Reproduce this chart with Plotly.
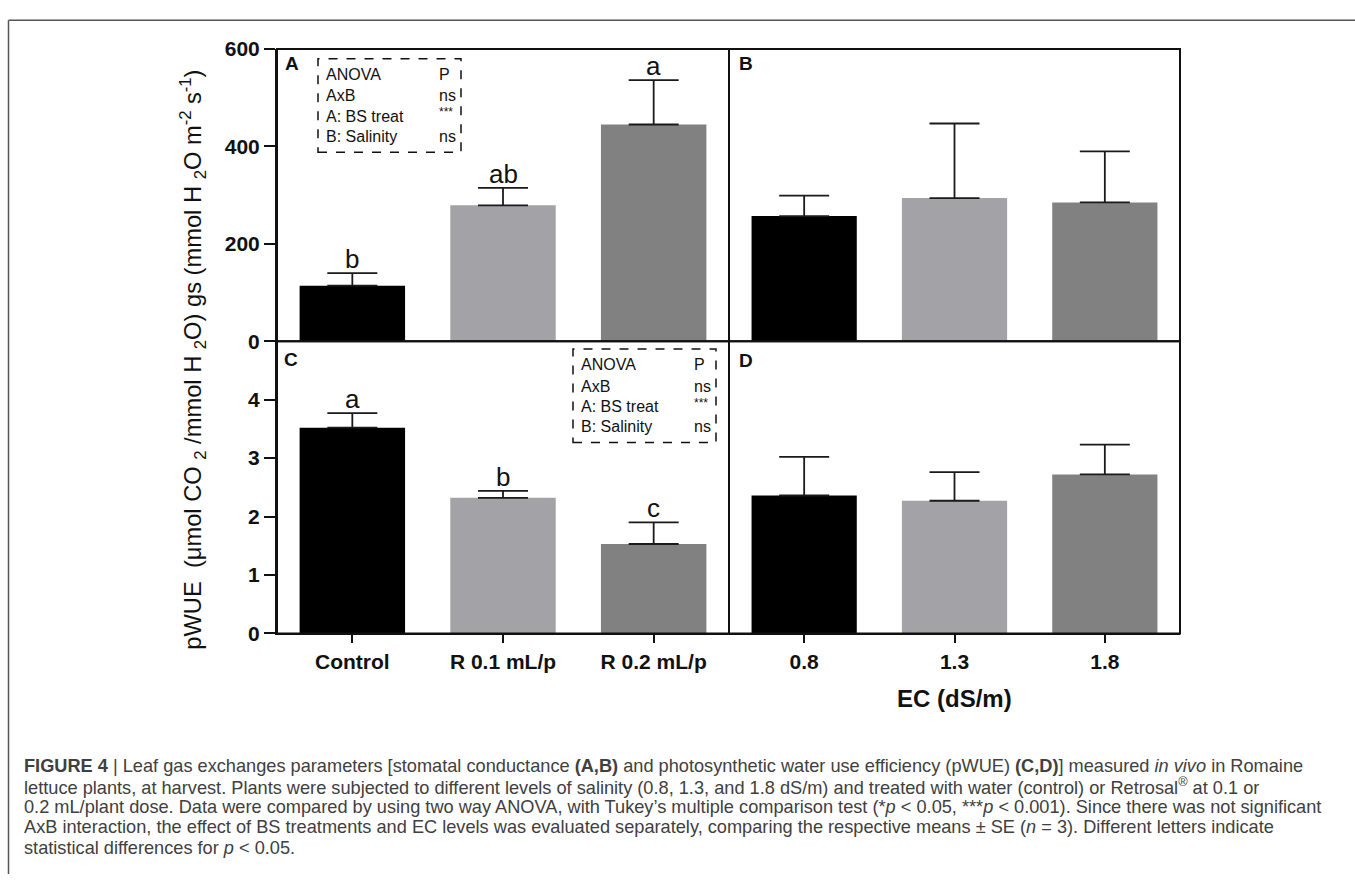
import plotly.graph_objects as go

W, H = 1355, 885

def px(x):
    return x / W

def py(y):
    return 1 - y / H

# ---------------- data ----------------
treat_cats = ["Control", "R 0.1 mL/p", "R 0.2 mL/p"]
ec_cats = ["0.8", "1.3", "1.8"]

gs_treat = [114, 279, 445]
gs_treat_se = [26, 36, 91]
gs_ec = [257, 294, 285]
gs_ec_se = [42, 153, 105]

wue_treat = [3.52, 2.32, 1.53]
wue_treat_se = [0.25, 0.12, 0.37]
wue_ec = [2.36, 2.27, 2.72]
wue_ec_se = [0.66, 0.49, 0.51]

letters_gs = ["b", "ab", "a"]
letters_wue = ["a", "b", "c"]

gs_ticks = [0, 200, 400, 600]
wue_ticks = [0, 1, 2, 3, 4]

bar_colors = ["#000000", "#a3a3a7", "#818181"]
FONT = "Liberation Sans, Arial, sans-serif"

# ---------------- figure ----------------
fig = go.Figure()

def add_bars(cats, vals, se, xa, ya):
    fig.add_trace(go.Bar(
        x=cats, y=vals, width=0.7,
        marker=dict(color=bar_colors, line=dict(width=0)),
        error_y=dict(type="data", array=se, arrayminus=[0] * len(se), symmetric=False,
                     width=25, thickness=1.8, color="#1a1a1a"),
        xaxis=xa, yaxis=ya, showlegend=False, hoverinfo="skip"))

add_bars(treat_cats, gs_treat, gs_treat_se, "x", "y")
add_bars(ec_cats, gs_ec, gs_ec_se, "x2", "y2")
add_bars(treat_cats, wue_treat, wue_treat_se, "x3", "y3")
add_bars(ec_cats, wue_ec, wue_ec_se, "x4", "y4")

xA = [px(277), px(729)]
xB = [px(729), px(1180)]
yTop = [py(338), py(38)]
yBot = [py(638), py(338)]

tickfont = dict(family=FONT, size=21, color="#111", weight="bold")

common_x = dict(type="category", range=[-0.5, 2.5], showgrid=False, zeroline=False, fixedrange=True)
hidden_x = dict(common_x, showticklabels=False, ticks="", showline=False)
shown_x = dict(common_x, showticklabels=True, ticks="outside", ticklen=8, tickwidth=2,
               tickcolor="#111", showline=True, linewidth=2, linecolor="#111", tickfont=tickfont)

fig.update_layout(
    width=W, height=H,
    margin=dict(l=0, r=0, t=0, b=0),
    paper_bgcolor="white", plot_bgcolor="white",
    bargap=0.3,
    xaxis=dict(hidden_x, domain=xA, anchor="y"),
    xaxis2=dict(hidden_x, domain=xB, anchor="y2"),
    xaxis3=dict(shown_x, domain=xA, anchor="y3"),
    xaxis4=dict(shown_x, domain=xB, anchor="y4"),
    yaxis=dict(domain=yTop, anchor="x", range=[0, 600], tickvals=gs_ticks, ticks="outside",
               ticklen=11, tickwidth=2, tickcolor="#111", showline=True, linewidth=2,
               linecolor="#111", showgrid=False, zeroline=False, tickfont=tickfont),
    yaxis2=dict(domain=yTop, anchor="x2", range=[0, 600], visible=False),
    yaxis3=dict(domain=yBot, anchor="x3", range=[0, 5], tickvals=wue_ticks, ticks="outside",
                ticklen=11, tickwidth=2, tickcolor="#111", showline=True, linewidth=2,
                linecolor="#111", showgrid=False, zeroline=False, tickfont=tickfont),
    yaxis4=dict(domain=yBot, anchor="x4", range=[0, 5], visible=False),
)

shapes = []
# panel frames
for (x0, y0, x1, y1) in [(277, 38, 729, 338), (729, 38, 1180, 338),
                         (277, 338, 729, 638), (729, 338, 1180, 638)]:
    shapes.append(dict(type="rect", xref="paper", yref="paper", x0=px(x0), x1=px(x1),
                       y0=py(y1), y1=py(y0), line=dict(color="#111", width=2)))
# ANOVA dashed boxes
for (x0, y0, x1, y1) in [(318, 48, 461, 144), (573, 346, 716, 442)]:
    shapes.append(dict(type="rect", xref="paper", yref="paper", x0=px(x0), x1=px(x1),
                       y0=py(y1), y1=py(y0), line=dict(color="#111", width=1.5, dash="dash")))
# outer figure border
shapes.append(dict(type="line", xref="paper", yref="paper", x0=px(8.5), x1=px(8.5),
                   y0=0, y1=py(8.5), line=dict(color="#555", width=1.5)))
shapes.append(dict(type="line", xref="paper", yref="paper", x0=px(8.5), x1=1,
                   y0=py(8.5), y1=py(8.5), line=dict(color="#555", width=1.5)))
fig.update_layout(shapes=shapes)

ann = []

# significance letters
def add_letters(cats, vals, se, letters, xr, yr):
    for c, v, s, l in zip(cats, vals, se, letters):
        ann.append(dict(x=c, y=v + s, xref=xr, yref=yr, text=l, showarrow=False,
                        yanchor="bottom", yshift=-3,
                        font=dict(family=FONT, size=26, color="#111")))

add_letters(treat_cats, gs_treat, gs_treat_se, letters_gs, "x", "y")
add_letters(treat_cats, wue_treat, wue_treat_se, letters_wue, "x3", "y3")

# panel letters
for t, x, y in [("A", 292, 53), ("B", 746, 53), ("C", 291, 357), ("D", 746, 358)]:
    ann.append(dict(x=px(x), y=py(y), xref="paper", yref="paper", text=t, showarrow=False,
                    xanchor="center", yanchor="middle",
                    font=dict(family=FONT, size=19, color="#111", weight="bold")))

# ANOVA text
anova_left = ["ANOVA", "AxB", "A: BS treat", "B: Salinity"]
anova_right = ["P", "ns", "***", "ns"]
for lx, rx, ys in [(324, 437, [64, 86, 107, 128]), (579, 692, [362, 384, 405, 426])]:
    for tl, tr, y in zip(anova_left, anova_right, ys):
        ann.append(dict(x=px(lx), y=py(y), xref="paper", yref="paper", text=tl, showarrow=False,
                        xanchor="left", yanchor="middle",
                        font=dict(family=FONT, size=16, color="#111")))
        star = tr == "***"
        ann.append(dict(x=px(rx), y=py(y - (4 if star else 0)), xref="paper", yref="paper",
                        text=tr, showarrow=False, xanchor="left", yanchor="middle",
                        font=dict(family=FONT, size=12 if star else 16, color="#111")))

# y axis title
ann.append(dict(x=px(193), y=py(357), xref="paper", yref="paper", textangle=-90,
                text="pWUE  (μmol CO <sub>2</sub> /mmol H <sub>2</sub>O) gs (mmol H <sub>2</sub>O m<sup>-2</sup> s<sup>-1</sup>)",
                showarrow=False, xanchor="center", yanchor="middle",
                font=dict(family=FONT, size=23.7, color="#111")))

# x axis title
ann.append(dict(x=px(954), y=py(705), xref="paper", yref="paper", text="EC (dS/m)",
                showarrow=False, xanchor="center", yanchor="middle",
                font=dict(family=FONT, size=24, color="#111", weight="bold")))

# caption
caption = [
    "<b>FIGURE 4</b> | Leaf gas exchanges parameters [stomatal conductance <b>(A,B)</b> and photosynthetic water use efficiency (pWUE) <b>(C,D)</b>] measured <i>in vivo</i> in Romaine",
    "lettuce plants, at harvest. Plants were subjected to different levels of salinity (0.8, 1.3, and 1.8 dS/m) and treated with water (control) or Retrosal<sup>®</sup> at 0.1 or",
    "0.2 mL/plant dose. Data were compared by using two way ANOVA, with Tukey’s multiple comparison test (*<i>p</i> &lt; 0.05, ***<i>p</i> &lt; 0.001). Since there was not significant",
    "AxB interaction, the effect of BS treatments and EC levels was evaluated separately, comparing the respective means ± SE (<i>n</i> = 3). Different letters indicate",
    "statistical differences for <i>p</i> &lt; 0.05.",
]
for i, line in enumerate(caption):
    ann.append(dict(x=px(22), y=py(774 + 21 * i), xref="paper", yref="paper", text=line,
                    showarrow=False, xanchor="left", yanchor="middle",
                    font=dict(family=FONT, size=18.2, color="#404040")))

fig.update_layout(annotations=ann)

fig.write_html("out.html")
